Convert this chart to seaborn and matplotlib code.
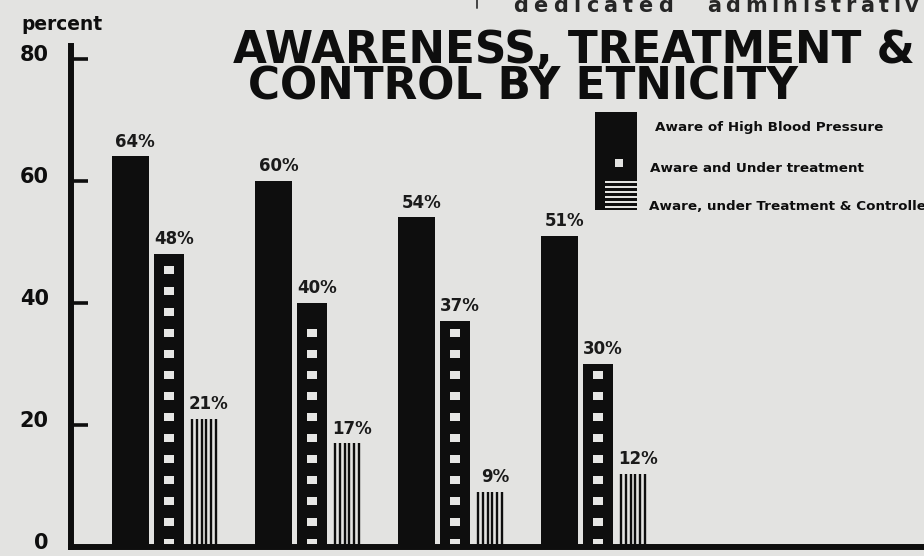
import numpy as np
import pandas as pd
import matplotlib
matplotlib.use("Agg")
import matplotlib.pyplot as plt
from matplotlib.patches import Rectangle
from matplotlib.lines import Line2D
from matplotlib.transforms import ScaledTranslation
import seaborn as sns

# --- data ---
groups = ["Group 1", "Group 2", "Group 3", "Group 4"]   # x labels are cut off in the scan
series = [
    "Aware of High Blood Pressure",
    "Aware and Under treatment",
    "Aware, under Treatment & Controlled",
]
aware = [64, 60, 54, 51]
treated = [48, 40, 37, 30]
controlled = [21, 17, 9, 12]
y_ticks = [0, 20, 40, 60, 80]

PAPER = "#e3e3e1"
INK = "#0e0e0e"
W, H = 924, 556


def fx(x):
    return x / W


def fy(y):
    return 1 - y / H


def spaced_word(fig, word, x_left, x_right, y, **kw):
    # place letters one by one, spreading the word over [x_left, x_right]
    renderer = fig.canvas.get_renderer()
    texts = [fig.text(0, fy(y), ch, ha="left", va="baseline", **kw) for ch in word]
    sizes = [t.get_window_extent(renderer).width for t in texts]
    track = (x_right - x_left - sum(sizes)) / (len(word) - 1)
    x = x_left
    for t, s in zip(texts, sizes):
        t.set_x(fx(x))
        x += s + track


df = pd.DataFrame({
    "group": groups * 3,
    "series": np.repeat(series, len(groups)),
    "value": aware + treated + controlled,
})

sns.set_style("white")
plt.rcParams["font.family"] = ["DejaVu Sans"]

fig = plt.figure(figsize=(W / 100, H / 100), dpi=100, facecolor=PAPER)
ax = fig.add_axes([fx(71), 9 / H, 1 - fx(71), (547 - 46) / H])
ax.set_facecolor("none")

sns.barplot(data=df, x="group", y="value", hue="series", order=groups,
            hue_order=series, palette={s: INK for s in series}, saturation=1,
            errorbar=None, legend=False, ax=ax)

# bar widths / offsets inside each group (hand drawn, uneven)
offsets = [-0.234, 0.035, 0.28]
widths = [0.259, 0.21, 0.182]
for cont, off, w in zip(ax.containers, offsets, widths):
    for j, bar in enumerate(cont):
        bar.set_x(j + off - w / 2)
        bar.set_width(w)
        bar.set_linewidth(0)

# "treated" bars: column of small light squares
dot = [(-1, -0.8), (1, -0.8), (1, 0.8), (-1, 0.8)]
for bar in ax.containers[1]:
    cx = bar.get_x() + bar.get_width() / 2
    ys = np.arange(0.6, bar.get_height() - 1.5, 3.45)
    ax.scatter(np.full(len(ys), cx), ys, marker=dot, s=52, color="#e6e6e4",
               linewidths=0, zorder=2)

# "controlled" bars: vertical line hatching only
for bar in ax.containers[2]:
    bar.set_facecolor("none")
    x0 = bar.get_x() + 0.009
    x1 = bar.get_x() + bar.get_width() - 0.009
    ax.vlines(np.linspace(x0, x1, 6), 0, bar.get_height(), color=INK,
              linewidth=1.7, zorder=2)

# value labels
for cont in ax.containers:
    for bar in cont:
        ax.annotate(f"{bar.get_height():.0f}%",
                    (bar.get_x() + bar.get_width() / 2, bar.get_height()),
                    xytext=(3.5, 7), textcoords="offset points",
                    ha="center", va="baseline", fontsize=12,
                    fontweight="bold", color="#1a1a1a")

ax.set_xlim(-0.65, 5.315)
ax.set_ylim(0, 82.1)
ax.set_xticks([])
ax.set_xlabel("")
ax.set_ylabel("")
ax.set_yticks(y_ticks)
ax.tick_params(axis="y", direction="in", length=12, width=2.6, color=INK,
               labelsize=15, pad=16, labelcolor=INK, left=True)
for lbl in ax.get_yticklabels():
    lbl.set_fontweight("bold")
    lbl.set_transform(lbl.get_transform()
                      + ScaledTranslation(0, 4 / 72, fig.dpi_scale_trans))
for side in ["top", "right"]:
    ax.spines[side].set_visible(False)
for side in ["left", "bottom"]:
    ax.spines[side].set_linewidth(4.3)
    ax.spines[side].set_color(INK)
    ax.spines[side].set_capstyle("projecting")

# texts around the chart
fig.text(fx(21), fy(30), "percent", fontsize=13.4, fontweight="bold",
         color=INK, va="baseline")
fig.text(fx(233), fy(63), "AWARENESS, TREATMENT &", fontsize=31.5,
         fontweight="bold", color=INK, va="baseline")
fig.text(fx(248), fy(100), "CONTROL BY ETNICITY", fontsize=31.5,
         fontweight="bold", color=INK, va="baseline")

# letter-spaced running text cut at the top of the scan
spaced_word(fig, "dedicated", 513, 673, 12, fontsize=15, fontweight="bold",
            color="#262626")
spaced_word(fig, "administrativ", 707, 918, 12, fontsize=15,
            fontweight="bold", color="#262626")
fig.add_artist(Line2D([fx(477)] * 2, [fy(0), fy(8)], color="#444444",
                      linewidth=1.4, transform=fig.transFigure))

# legend: one combined key glyph
fig.add_artist(Rectangle((fx(595), fy(210)), 42 / W, 98 / H, color=INK,
                         linewidth=0, transform=fig.transFigure))
fig.add_artist(Rectangle((fx(615), fy(167)), 8 / W, 8 / H, color=PAPER,
                         linewidth=0, transform=fig.transFigure))
for k in range(6):
    yy = 181 + 5 * k
    fig.add_artist(Rectangle((fx(605), fy(yy + 2)), 32 / W, 2 / H,
                             color=PAPER, linewidth=0,
                             transform=fig.transFigure))
for name, (lx, ly) in zip(series, [(655, 128), (650, 169), (649, 207)]):
    fig.text(fx(lx), fy(ly), name, fontsize=9.7, fontweight="bold",
             color=INK, va="center")

fig.savefig("out.png", dpi=100, facecolor=PAPER)
